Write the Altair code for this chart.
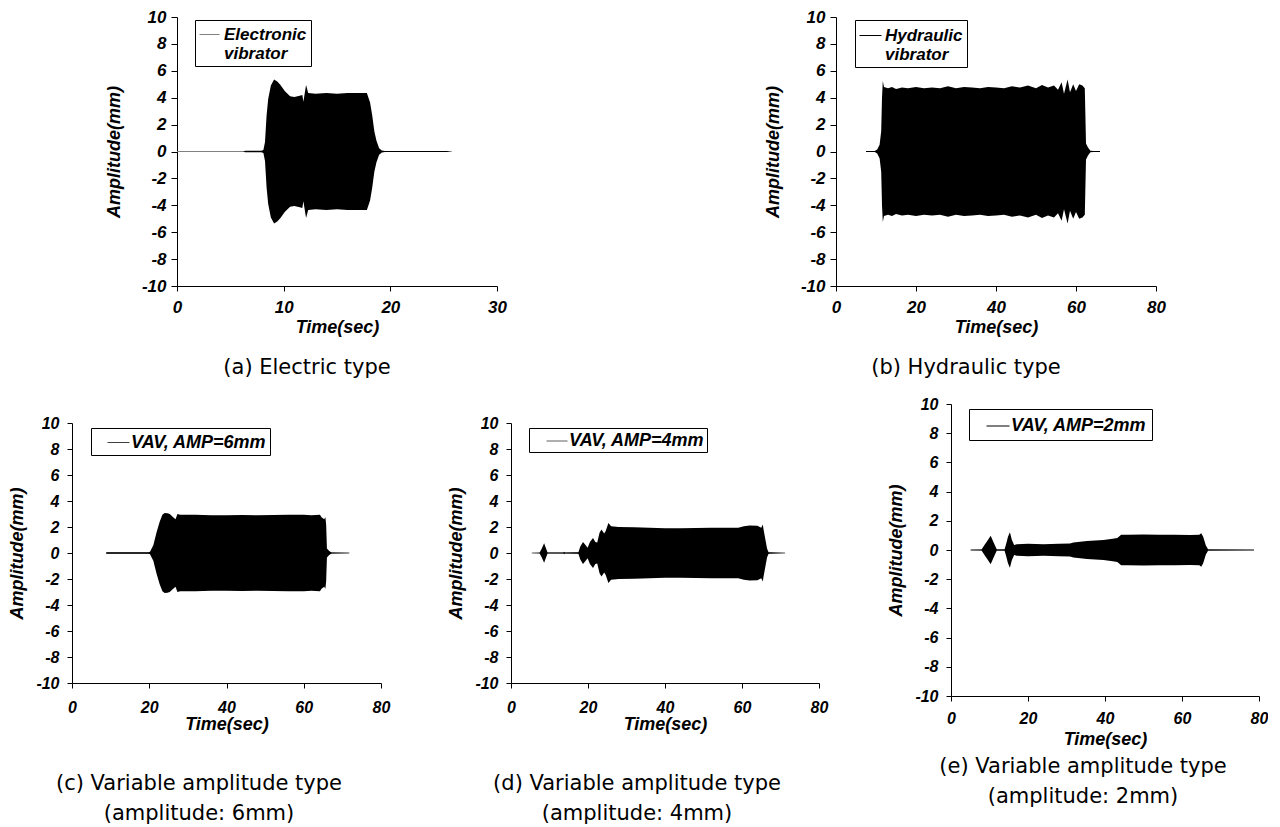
import altair as alt
import pandas as pd

# ---------------- data (envelope of the displacement trace) ----------------
# (a) Electronic vibrator
a_time = [0.0, 6.2, 6.4, 7.9, 8.1, 8.25, 8.4, 8.55, 8.8, 9.1, 9.4, 9.7, 10.1, 10.6, 11.0, 11.5,
          11.75, 11.85, 11.95, 12.1, 12.3, 13.0, 14.0, 15.0, 16.0, 17.0, 17.8, 18.1, 18.3, 18.5,
          18.7, 18.95, 19.2, 19.5, 25.3, 25.6]
a_amp = [0.0, 0.0, 0.05, 0.05, 0.12, 0.7, 2.7, 3.9, 4.9, 5.35, 5.2, 4.95, 4.5, 4.1, 4.05, 4.15,
         4.2, 3.7, 4.2, 4.95, 4.35, 4.3, 4.35, 4.3, 4.35, 4.35, 4.35, 3.65, 2.7, 1.5,
         0.8, 0.25, 0.08, 0.04, 0.04, 0.0]
a_trace = [0.0, 25.75]

# (b) Hydraulic vibrator
b_time = [7.5, 9.6, 10.3, 10.9, 11.3, 11.5, 11.7, 12.0, 13.0, 14.0, 15.0, 16.5, 18.0, 20.0, 22.0,
          24.0, 26.0, 28.0, 30.0, 32.0, 34.0, 36.0, 38.0, 40.0, 42.0, 44.0, 46.0, 48.0, 50.0,
          51.5, 53.0, 54.5, 55.5, 56.4, 57.0, 57.9, 58.5, 59.3, 60.0, 60.8, 61.6, 62.2, 62.5,
          63.0, 63.6, 66.0]
b_amp = [0.0, 0.02, 0.15, 0.5, 1.5, 4.0, 5.25, 4.8, 4.7, 4.8, 4.65, 4.75, 4.7, 4.8, 4.7,
         4.75, 4.7, 4.85, 4.7, 4.8, 4.75, 4.7, 4.8, 4.75, 4.7, 4.85, 4.75, 4.9, 4.7,
         4.95, 4.75, 4.9, 4.6, 5.15, 4.3, 5.35, 4.4, 5.0, 4.5, 5.0, 4.9, 4.7, 0.6,
         0.3, 0.05, 0.0]
b_trace = [7.5, 66.0]

# (c) VAV, AMP=6mm
c_time = [8.8, 9.0, 19.8, 20.2, 21.05, 21.9, 22.7, 23.4, 24.0, 24.7, 25.3, 26.2, 26.8, 27.3, 28.0,
          32.0, 36.0, 40.0, 44.0, 48.0, 52.0, 56.0, 60.0, 62.0, 64.2, 64.6, 65.3, 65.6, 65.8,
          66.0, 66.6, 67.2, 71.8]
c_amp = [0.0, 0.05, 0.05, 0.1, 0.6, 1.6, 2.4, 2.95, 3.08, 3.05, 3.0, 2.75, 2.6, 3.0, 2.95,
         2.95, 2.9, 2.9, 2.92, 2.9, 2.92, 2.95, 2.95, 2.9, 2.95, 2.75, 2.6, 2.75, 2.2,
         0.35, 0.15, 0.03, 0.0]
c_trace = [8.8, 71.8]

# (d) VAV, AMP=4mm
d_time = [5.4, 7.4, 8.0, 8.6, 9.1, 9.5, 13.6, 13.8, 14.0, 17.5, 18.0, 18.7, 19.4, 19.9, 20.5,
          21.3, 21.9, 22.4, 23.0, 23.5, 24.2, 24.6, 25.3, 26.0, 28.0, 32.0, 36.0, 38.0, 40.0,
          44.0, 48.0, 52.0, 56.0, 59.0, 60.5, 62.0, 64.0, 65.0, 65.4, 65.6, 66.1, 66.5, 66.9,
          71.2]
d_amp = [0.0, 0.02, 0.35, 0.75, 0.35, 0.03, 0.03, 0.1, 0.03, 0.05, 0.5, 0.85, 0.6, 0.4, 0.85,
         1.15, 0.85, 0.8, 1.55, 1.8, 1.5, 1.7, 2.3, 2.05, 2.0, 1.98, 1.95, 1.92, 1.9,
         1.9, 1.92, 1.95, 1.95, 1.95, 2.05, 2.12, 2.1, 1.95, 2.2, 1.8, 1.0, 0.35, 0.05,
         0.0]
d_trace = [5.4, 71.2]

# (e) VAV, AMP=2mm
e_time = [5.1, 7.9, 8.6, 9.5, 10.3, 11.1, 11.9, 13.9, 14.3, 14.8, 15.3, 15.8, 16.4, 17.1, 20.0,
          24.0, 28.0, 30.9, 31.8, 35.3, 39.6, 42.0, 43.2, 44.2, 46.0, 50.0, 54.0, 58.0, 62.0,
          64.5, 65.0, 65.5, 66.2, 66.8, 78.7]
e_amp = [0.0, 0.02, 0.3, 0.65, 0.97, 0.5, 0.03, 0.03, 0.4, 0.9, 1.22, 0.7, 0.35, 0.4, 0.42,
         0.4, 0.42, 0.44, 0.52, 0.62, 0.68, 0.77, 0.82, 1.05, 1.05, 1.07, 1.05, 1.05, 1.03,
         1.05, 1.15, 0.9, 0.3, 0.03, 0.0]
e_trace = [5.1, 78.7]

FONT = "Liberation Sans"
CAP_FONT = "DejaVu Sans"
NB = "\u00a0\u00a0"  # trailing room inside the legend box, as in the original


def panel(times, amps, trace, xmax, xvals, width, height, xrange, yrange, label, line_color,
          leg, caption, cap_offset, cap_lh, cap_dx, row):
    env = pd.DataFrame({"t": times, "up": amps, "lo": [-v for v in amps]})
    base = pd.DataFrame({"t": trace, "v": [0.0, 0.0], "series": [label, label]})

    if row == 1:
        ylab, ytick, ypad, yext, ytp = 17, 6, 5, 42, 12
        xlab, xtick, xpad, xtp = 17, 5, 8, 3
    elif row == 2:
        ylab, ytick, ypad, yext, ytp = 16, 5, 8, 40, 6
        xlab, xtick, xpad, xtp = 16, 5, 11, 0
    else:
        ylab, ytick, ypad, yext, ytp = 16, 5, 8, 40, 6
        xlab, xtick, xpad, xtp = 16, 5, 9, 4

    xscale = alt.Scale(domain=[0, xmax], nice=False, zero=False, range=xrange)
    yscale = alt.Scale(domain=[-10, 10], nice=False, range=yrange)
    xaxis = alt.Axis(title="Time(sec)", values=xvals, grid=False, labelFlush=False,
                     labelOverlap=False,
                     labelFont=FONT, labelFontSize=xlab, labelFontWeight="bold",
                     labelFontStyle="italic", labelColor="black", labelPadding=xpad,
                     tickSize=xtick, tickColor="black", domainColor="black",
                     titleFont=FONT, titleFontSize=18, titleFontWeight="bold",
                     titleFontStyle="italic", titleColor="black", titlePadding=xtp,
                     labelExpr="'' + datum.value")
    yaxis = alt.Axis(title="Amplitude(mm)", values=list(range(-10, 11, 2)), grid=False,
                     labelOverlap=False,
                     labelFont=FONT, labelFontSize=ylab, labelFontWeight="bold",
                     labelFontStyle="italic", labelColor="black", labelPadding=ypad,
                     tickSize=ytick, tickColor="black", domainColor="black",
                     minExtent=yext, maxExtent=yext,
                     titleFont=FONT, titleFontSize=18, titleFontWeight="bold",
                     titleFontStyle="italic", titleColor="black", titlePadding=ytp,
                     labelExpr="'' + datum.value")

    legend = alt.Legend(title=None, orient="none", legendX=leg["x"], legendY=leg["y"],
                        strokeColor="black", fillColor="white", padding=leg["pad"],
                        symbolType="stroke", symbolSize=leg["sym"] ** 2,
                        symbolStrokeWidth=1, symbolOffset=leg["soff"],
                        labelOffset=leg["loff"], labelFont=FONT, labelFontSize=leg["fs"],
                        labelFontWeight="bold", labelFontStyle="italic",
                        labelColor="black", labelLimit=400,
                        labelExpr="split(datum.label, '|')")

    line = alt.Chart(base).mark_line(strokeWidth=1).encode(
        x=alt.X("t:Q", scale=xscale, axis=xaxis),
        y=alt.Y("v:Q", scale=yscale, axis=yaxis),
        color=alt.Color("series:N", scale=alt.Scale(range=[line_color]), legend=legend),
    )
    area = alt.Chart(env).mark_area(color="black", opacity=1, interpolate="linear").encode(
        x=alt.X("t:Q", scale=xscale, axis=xaxis),
        y=alt.Y("up:Q", scale=yscale, axis=yaxis),
        y2="lo:Q",
    )
    return alt.layer(line, area).properties(
        width=width, height=height,
        title=alt.TitleParams(text=caption, orient="bottom", anchor="middle", frame="group",
                              dx=cap_dx, font=CAP_FONT, fontSize=21, fontWeight="normal",
                              color="black", offset=cap_offset, lineHeight=cap_lh),
    )


def spacer(w, h):
    return alt.Chart(pd.DataFrame({"s": [0]})).mark_point(opacity=0).properties(width=w, height=h)


pa = panel(a_time, a_amp, a_trace, 30, [0, 10, 20, 30], 320, 269, [0, 320], [269, 0],
           "Electronic|vibrator", "#808080",
           dict(x=18, y=3, pad=4, sym=20, soff=0, loff=4, fs=17), "(a) Electric type", 21, 30, -30, 1)
pb = panel(b_time, b_amp, b_trace, 80, [0, 20, 40, 60, 80], 115, 269, [0, 320], [269, 0],
           "Hydraulic|vibrator", "black",
           dict(x=19, y=3, pad=4, sym=22, soff=0, loff=3, fs=17), "(b) Hydraulic type", 21, 30, 72.5, 1)
pc = panel(c_time, c_amp, c_trace, 80, [0, 20, 40, 60, 80], 105, 279, [0, 309], [279, 19],
           "VAV, AMP=6mm" + NB, "#404040",
           dict(x=19, y=24, pad=3, sym=22, soff=13, loff=1, fs=18),
           ["(c) Variable amplitude type", "(amplitude: 6mm)"], 40, 30, 74.5, 2)
pd_ = panel(d_time, d_amp, d_trace, 80, [0, 20, 40, 60, 80], 308, 279, [0, 308], [279, 19],
            "VAV, AMP=4mm" + NB, "#606060",
            dict(x=18, y=24, pad=2, sym=21, soff=15, loff=1, fs=18),
            ["(d) Variable amplitude type", "(amplitude: 4mm)"], 40, 30, -28, 2)
pe = panel(e_time, e_amp, e_trace, 80, [0, 20, 40, 60, 80], 308, 292, [0, 308], [292, 0],
           "VAV, AMP=2mm" + NB, "black",
           dict(x=18, y=5, pad=5, sym=23, soff=12, loff=1, fs=18),
           ["(e) Variable amplitude type", "(amplitude: 2mm)"], 8, 30, -22, 3)

# grid columns start (relative to panel c): 0, 105, 439, 764, 879
chart = alt.concat(
    spacer(105, 269), pa, spacer(325, 269), pb, spacer(1, 269),
    pc, spacer(334, 10), pd_, spacer(115, 10), pe,
    columns=5,
    spacing=alt.RowColnumber(row=118, column=0),
    bounds="flush",
    align="each",
    padding=0,
).resolve_scale(
    x="independent", y="independent", color="independent"
).resolve_legend(color="independent").configure_view(stroke=None).configure_axis(
    labelOverlap=False
)

chart.save("out.html", embed_options={"renderer": "svg", "actions": False})
